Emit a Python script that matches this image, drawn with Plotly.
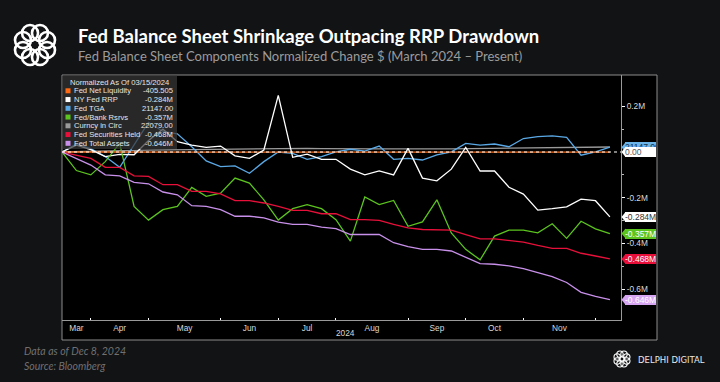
import math
import pandas as pd
import plotly.graph_objects as go

# ---------------- data (normalized change since 03/15/2024, in M) ----------------
dates = pd.date_range("2024-03-15", "2024-12-06", freq="W-FRI")

net_liquidity = [0.0, -0.0004, -0.0003, -0.0005, -0.0004, -0.0004, -0.0003, -0.0004, -0.0004, -0.0004,
                 -0.0004, -0.0003, -0.0004, -0.0004, -0.0004, -0.0004, -0.0004, -0.0004, -0.0004, -0.0004,
                 -0.0004, -0.0004, -0.0004, -0.0004, -0.0004, -0.0004, -0.0004, -0.0004, -0.0004, -0.0004,
                 -0.0004, -0.0004, -0.0004, -0.0004, -0.0004, -0.0004, -0.0004, -0.0004, -0.0004]
rrp = [0.0, 0.03, 0.01, -0.02, -0.01, -0.012, 0.05, 0.10, 0.045, 0.03,
       0.02, 0.026, -0.017, -0.028, 0.009, 0.248, -0.023, -0.009, -0.032, -0.032,
       -0.075, -0.100, -0.083, -0.100, 0.016, -0.114, -0.126, -0.075, 0.020, -0.083,
       -0.083, -0.154, -0.184, -0.254, -0.248, -0.240, -0.206, -0.213, -0.284]
tga = [0.0, 0.035, 0.015, -0.02, -0.067, 0.03, 0.13, 0.09, 0.08, 0.023,
       -0.039, -0.064, -0.061, -0.093, -0.042, 0.0, -0.006, -0.032, -0.020, 0.001,
       0.012, 0.004, 0.026, -0.032, -0.028, -0.035, -0.013, 0.001, 0.038, 0.030,
       0.035, 0.023, 0.059, 0.067, 0.071, 0.064, -0.014, 0.001, 0.021]
bank_reserves = [0.0, -0.081, -0.100, -0.042, 0.038, -0.238, -0.298, -0.252, -0.238, -0.155,
                 -0.194, -0.180, -0.114, -0.136, -0.209, -0.298, -0.248, -0.230, -0.248, -0.296,
                 -0.390, -0.197, -0.230, -0.212, -0.325, -0.306, -0.209, -0.354, -0.426, -0.472,
                 -0.368, -0.342, -0.342, -0.354, -0.314, -0.378, -0.303, -0.336, -0.357]
currency = [0.0, 0.002, 0.004, 0.005, 0.006, 0.007, 0.008, 0.009, 0.010, 0.011,
            0.012, 0.013, 0.014, 0.015, 0.016, 0.017, 0.017, 0.016, 0.015, 0.014,
            0.013, 0.013, 0.014, 0.014, 0.013, 0.013, 0.014, 0.014, 0.015, 0.016,
            0.016, 0.017, 0.018, 0.018, 0.019, 0.019, 0.020, 0.021, 0.022]
securities = [0.0, -0.013, -0.028, -0.067, -0.067, -0.104, -0.107, -0.143, -0.143, -0.172,
              -0.172, -0.183, -0.213, -0.213, -0.223, -0.238, -0.255, -0.255, -0.270, -0.270,
              -0.296, -0.296, -0.299, -0.317, -0.332, -0.339, -0.342, -0.342, -0.361, -0.380,
              -0.380, -0.387, -0.394, -0.409, -0.422, -0.422, -0.443, -0.455, -0.468]
total_assets = [0.0, -0.028, -0.057, -0.100, -0.104, -0.133, -0.139, -0.175, -0.187, -0.235,
                -0.238, -0.252, -0.281, -0.281, -0.288, -0.307, -0.317, -0.317, -0.329, -0.335,
                -0.361, -0.361, -0.361, -0.397, -0.414, -0.426, -0.426, -0.433, -0.459, -0.488,
                -0.491, -0.498, -0.510, -0.527, -0.545, -0.571, -0.614, -0.632, -0.646]

series_names = ["Fed Net Liquidity", "NY Fed RRP", "Fed TGA", "Fed/Bank Rsrvs",
                "Curncy in Circ", "Fed Securities Held", "Fed Total Assets"]
legend_values = ["-405.505", "-0.284M", "21147.00", "-0.357M", "22079.00", "-0.468M", "-0.646M"]
y_tick_vals = [0.2, -0.2, -0.4, -0.6]
y_tick_text = ["0.2M", "-0.2M", "-0.4M", "-0.6M"]
y_minor_vals = [0.1, -0.1, -0.3, -0.5]
# ---------------------------------------------------------------------------------

colors = ["#ff6a13", "#ffffff", "#5aa9e6", "#5cc41f", "#9a9a9a", "#e8103a", "#c890ea"]

W, H = 720, 382
L, R, T, B = 62, 621, 75, 320
YMIN, YMAX = -0.735, 0.337
XMAX = 38.77

x = list(range(len(dates)))


def px_x(p):
    return (p - L) / (R - L)


def px_y(p):
    return (B - p) / (B - T)


fig = go.Figure()

order = [4, 2, 0, 1, 3, 5, 6]
series = [net_liquidity, rrp, tga, bank_reserves, currency, securities, total_assets]
for i in order:
    fig.add_trace(go.Scatter(x=x, y=series[i], mode="lines", name=series_names[i],
                             line=dict(color=colors[i], width=1.3), hoverinfo="skip"))

# month ticks: boundaries at last weekly obs of each month, labels centred in each month
months = pd.Series(dates.month)
boundaries = [int(months[months == m].index.max()) for m in range(3, 12)]
centers = []
prev = 0
for b in boundaries:
    centers.append((prev + b) / 2)
    prev = b
month_labels = [pd.Timestamp(2024, m, 1).strftime("%b") for m in range(3, 12)]

small_family = "Liberation Sans Narrow, Liberation Sans, Arial"
axis_font = dict(family=small_family, size=8.3, color="#d8d8d8")

shapes = []
# outer chart frame
shapes.append(dict(type="rect", xref="paper", yref="paper", x0=px_x(62), x1=px_x(657),
                   y0=px_y(340), y1=px_y(75), line=dict(color="#8c8c8c", width=1),
                   fillcolor="#000000", layer="below"))
# zero dashed reference
shapes.append(dict(type="line", xref="paper", yref="y", x0=0, x1=1, y0=0, y1=0,
                   line=dict(color="#ffffff", width=1.2, dash="3px,3px"), layer="above"))
# legend box
shapes.append(dict(type="rect", xref="paper", yref="paper", x0=px_x(62.5), x1=px_x(177),
                   y0=px_y(149), y1=px_y(75.5), line=dict(width=0),
                   fillcolor="rgba(55,55,55,0.72)", layer="above"))

annotations = []
leg_font = dict(family=small_family, size=7.6, color="#e6e6e6")
annotations.append(dict(x=px_x(68), y=px_y(82), xref="paper", yref="paper", text="Normalized As Of 03/15/2024",
                        showarrow=False, xanchor="left", yanchor="middle", font=leg_font))
for k, (nm, val) in enumerate(zip(series_names, legend_values)):
    yy = 90.8 + 8.75 * k
    shapes.append(dict(type="rect", xref="paper", yref="paper", x0=px_x(65.5), x1=px_x(70.5),
                       y0=px_y(yy + 2.5), y1=px_y(yy - 2.5), line=dict(width=0),
                       fillcolor=colors[k], layer="above"))
    annotations.append(dict(x=px_x(72), y=px_y(yy), xref="paper", yref="paper", text=nm,
                            showarrow=False, xanchor="left", yanchor="middle", font=leg_font))
    annotations.append(dict(x=px_x(175), y=px_y(yy), xref="paper", yref="paper", text=val,
                            showarrow=False, xanchor="right", yanchor="middle", font=leg_font))

# right-side value tags (boxes drawn as annotation backgrounds so later tags cover earlier ones)
data_per_px = (YMAX - YMIN) / (B - T)
tags = [
    (tga[-1], "21147.00", "#6ab4ea", "#10324a"),
    (0.0, "0.00", "#ffffff", "#555555"),
    (rrp[-1], "-0.284M", "#ffffff", "#333333"),
    (bank_reserves[-1], "-0.357M", "#5cc41f", "#ffffff"),
    (securities[-1], "-0.468M", "#e8103a", "#ffffff"),
    (total_assets[-1], "-0.646M", "#d7a6f2", "#ffffff"),
]
for val, txt, bg, fg in tags:
    hh = 5 * data_per_px
    shapes.append(dict(type="path", xref="paper", yref="y",
                       path=f"M {px_x(621.5)} {val} L {px_x(625.5)} {val + hh} "
                            f"L {px_x(625.5)} {val - hh} Z",
                       fillcolor=bg, line=dict(width=0), layer="above"))
    annotations.append(dict(x=px_x(625), y=val, xref="paper", yref="y", text=txt, showarrow=False,
                            xanchor="left", yanchor="middle", align="left", width=31, height=10,
                            bgcolor=bg, borderpad=0, borderwidth=0,
                            font=dict(family=small_family, size=8.5, color=fg)))

# 2024 label
annotations.append(dict(x=px_x(345), y=px_y(333), xref="paper", yref="paper", text="2024", showarrow=False,
                        xanchor="center", yanchor="middle", font=axis_font))

# titles
annotations.append(dict(x=px_x(76), y=px_y(36), xref="paper", yref="paper",
                        text="<b>Fed Balance Sheet Shrinkage Outpacing RRP Drawdown</b>", showarrow=False,
                        xanchor="left", yanchor="middle", font=dict(family="Lato", size=18.5, color="#ffffff")))
annotations.append(dict(x=px_x(76), y=px_y(56), xref="paper", yref="paper",
                        text="Fed Balance Sheet Components Normalized Change $ (March 2024 \u2013 Present)",
                        showarrow=False, xanchor="left", yanchor="middle",
                        font=dict(family="Lato", size=13, color="#9c9c9c")))
# footer
foot_font = dict(family="Lato", size=10.5, color="#707070")
annotations.append(dict(x=px_x(22), y=px_y(351), xref="paper", yref="paper", text="<i>Data as of Dec 8, 2024</i>",
                        showarrow=False, xanchor="left", yanchor="middle", font=foot_font))
annotations.append(dict(x=px_x(22), y=px_y(366), xref="paper", yref="paper", text="<i>Source: Bloomberg</i>",
                        showarrow=False, xanchor="left", yanchor="middle", font=foot_font))
annotations.append(dict(x=px_x(636), y=px_y(360), xref="paper", yref="paper", text="DELPHI DIGITAL",
                        showarrow=False, xanchor="left", yanchor="middle",
                        font=dict(family="DejaVu Sans", size=8.5, color="#e8e8e8")))


# logos: ring of interlocking loops
def ring_logo(cx, cy, rad, loop_r, width):
    out = []
    for k in range(8):
        a = 2 * math.pi * k / 8 + math.pi / 8
        lx = cx + rad * math.cos(a)
        ly = cy + rad * math.sin(a)
        out.append(dict(type="circle", xref="paper", yref="paper",
                        x0=px_x(lx - loop_r), x1=px_x(lx + loop_r),
                        y0=px_y(ly + loop_r), y1=px_y(ly - loop_r),
                        line=dict(color="#ffffff", width=width), layer="above"))
    return out


shapes += ring_logo(35, 45, 13, 8, 2.6)
shapes += ring_logo(622, 359, 5.2, 3.2, 1.1)

fig.update_layout(
    width=W, height=H,
    margin=dict(l=L, r=W - R, t=T, b=H - B),
    paper_bgcolor="#121315",
    plot_bgcolor="#000000",
    showlegend=False,
    hovermode=False,
    shapes=shapes,
    annotations=annotations,
    xaxis=dict(range=[0, XMAX], showgrid=False, zeroline=False, showline=True, linecolor="#9a9a9a",
               linewidth=1, tickmode="array", tickvals=centers, ticktext=month_labels, ticks="",
               tickfont=axis_font, fixedrange=True,
               minor=dict(tickmode="array", tickvals=boundaries, ticks="inside", ticklen=2,
                          tickcolor="#ffffff", tickwidth=1)),
    yaxis=dict(range=[YMIN, YMAX], side="right", showgrid=False, zeroline=False, showline=True,
               linecolor="#9a9a9a", linewidth=1, tickmode="array", tickvals=y_tick_vals,
               ticktext=y_tick_text, ticks="outside", ticklen=3, tickcolor="#ffffff", tickwidth=1,
               tickfont=axis_font, fixedrange=True,
               minor=dict(tickmode="array", tickvals=y_minor_vals, ticks="outside", ticklen=2,
                          tickcolor="#bbbbbb", tickwidth=1)),
)

fig.write_html("out.html", config={"displayModeBar": False},
               post_script="document.body.style.margin='0';document.body.style.background='#121315';")
